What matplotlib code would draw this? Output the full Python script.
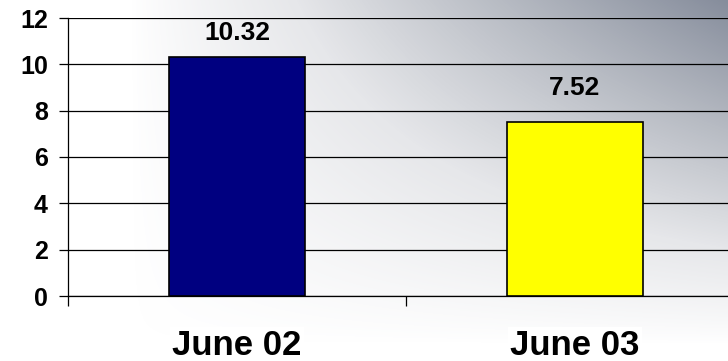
import numpy as np
import matplotlib
matplotlib.use("Agg")
import matplotlib.pyplot as plt
from matplotlib.colors import LinearSegmentedColormap

categories = ["June 02", "June 03"]
values = [10.32, 7.52]
value_labels = ["10.32", "7.52"]
bar_colors = ["#000080", "#FFFF00"]
yticks = [0, 2, 4, 6, 8, 10, 12]
label_offsets_px = [24, 34]

plt.rcParams['font.family'] = ['Liberation Sans', 'DejaVu Sans']
plt.rcParams['font.weight'] = 'bold'

fig = plt.figure(figsize=(7.28, 3.61), dpi=100)

# background gradient
bg = fig.add_axes([0, 0, 1, 1], zorder=-10)
h, w = 361, 728
yy, xx = np.mgrid[0:h, 0:w]
xf = xx / (w - 1)
yf = yy / (h - 1)
t = np.clip((xf - 0.18) / 0.82, 0, 1) * np.clip(1 - yf * 1.05, 0, 1)
t = t ** 0.85
cmap = LinearSegmentedColormap.from_list("bgc", ["#ffffff", "#e6e7ea", "#b7bbc3", "#868d9c"])
bg.imshow(t, cmap=cmap, vmin=0, vmax=1, aspect='auto', extent=[0, 1, 0, 1], interpolation='bilinear')
bg.set_axis_off()

ax = fig.add_axes([68 / 728, 65 / 361, 676 / 728, 278 / 361])
ax.patch.set_alpha(0)

x = np.arange(len(categories))
bars = ax.bar(x, values, width=0.4, color=bar_colors, edgecolor='black', linewidth=1.2, zorder=3)

ax.set_xlim(-0.5, len(categories) - 0.5)
ax.set_ylim(0, 12)
ax.set_yticks(yticks)
ax.set_yticklabels([str(v) for v in yticks], fontsize=18, fontweight='bold')
ax.yaxis.grid(True, color='black', linewidth=0.9, zorder=1)
ax.set_axisbelow(True)

ax.set_xticks(x)
ax.set_xticklabels(categories, fontsize=25, fontweight='bold')
ax.tick_params(axis='x', which='major', length=0, pad=24)
ax.set_xticks(np.arange(-0.5, len(categories), 1.0), minor=True)
ax.tick_params(axis='x', which='minor', length=7, width=0.9, direction='out')
ax.tick_params(axis='y', length=6.5, width=0.9, pad=8, direction='out')
for lbl in ax.get_xticklabels():
    lbl.set_bbox(dict(facecolor='white', edgecolor='none', pad=2))

for s in ['top', 'right']:
    ax.spines[s].set_visible(False)
for s in ['left', 'bottom']:
    ax.spines[s].set_linewidth(0.9)
    ax.spines[s].set_color('black')

for xi, v, lab, off in zip(x, values, value_labels, label_offsets_px):
    ax.annotate(lab, (xi, v), xytext=(0, off * 72 / 100), textcoords='offset points',
                ha='center', va='center', fontsize=19, fontweight='bold', zorder=5)

fig.savefig("out.png", dpi=100)
